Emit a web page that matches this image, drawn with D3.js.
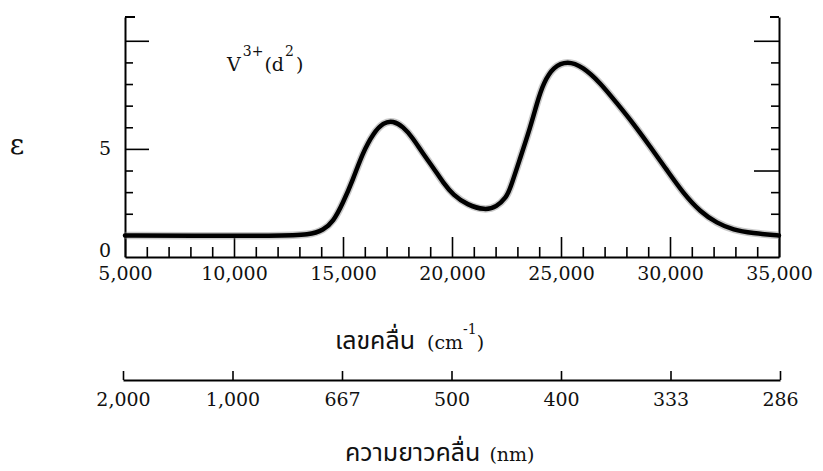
<!DOCTYPE html>
<html>
<head>
<meta charset="utf-8">
<script src="https://cdn.jsdelivr.net/npm/d3@7"></script>
<style>
  body { margin: 0; background: #fff; }
  text { fill: #111; }
  .num { font-family: "DejaVu Serif", serif; font-size: 19px; }
  .thai { font-family: "Noto Sans Thai", "Noto Serif Thai", "Loma", "Garuda", "Noto Sans", sans-serif; font-size: 25px; }
</style>
</head>
<body>
<script>
// wavenumber (cm-1) and molar absorptivity
const wavenumber = [5000, 8000, 12000, 13500, 14100, 14550, 15000, 15450, 15900, 16400,
  16850, 17300, 17750, 18200, 18650, 19150, 19600, 20050, 20700, 21500, 22050, 22500,
  22650, 23100, 23600, 23900, 24200, 24650, 25300, 26000, 26800, 27550, 28300, 29100,
  29850, 30600, 31400, 32150, 32900, 33800, 34900, 35000];
const epsilon = [1.0, 0.98, 0.98, 1.02, 1.25, 1.62, 2.5, 3.56, 4.81, 5.74,
  6.22, 6.3, 6.04, 5.51, 4.81, 4.12, 3.43, 2.87, 2.41, 2.16, 2.31, 2.78,
  3.1, 4.49, 6.02, 7.13, 8.06, 8.8, 9.08, 8.8, 8.06, 7.13, 6.2, 5.09,
  4.03, 2.96, 2.08, 1.57, 1.25, 1.1, 1.0, 1.0];

const wnTicks = [5000, 10000, 15000, 20000, 25000, 30000, 35000];
const wnLabels = ["5,000", "10,000", "15,000", "20,000", "25,000", "30,000", "35,000"];
const wlLabels = ["2,000", "1,000", "667", "500", "400", "333", "286"];
const epsTicks = [0, 5];

const W = 823, H = 471;
const svg = d3.select("body").append("svg").attr("width", W).attr("height", H);

const x = d3.scaleLinear().domain([5000, 35000]).range([125, 779]);
const y = d3.scaleLinear().domain([0, 11.1]).range([257, 17]);

// bottom (wavenumber) axis, ticks pointing up
const xAxis = d3.axisBottom(x)
  .tickValues(d3.range(6000, 35001, 1000).concat([5000]))
  .tickSizeInner(-10).tickSizeOuter(0).tickPadding(10)
  .tickFormat(d => wnTicks.includes(d) ? wnLabels[wnTicks.indexOf(d)] : "");
const gx = svg.append("g").attr("transform", "translate(0,257)").call(xAxis);
gx.selectAll(".tick line").attr("y2", d => d % 5000 === 0 ? -20 : -10);
gx.selectAll(".tick text").attr("class", "num");
gx.select(".domain").attr("stroke-width", 2);

// left axis
const yAxis = d3.axisLeft(y)
  .tickValues(d3.range(0, 11))
  .tickSizeInner(-8).tickSizeOuter(0).tickPadding(14)
  .tickFormat(d => epsTicks.includes(d) ? d : "");
const gy = svg.append("g").attr("transform", "translate(125,0)").call(yAxis);
gy.selectAll(".tick line").attr("x2", d => d === 0 ? 0 : (d % 5 === 0 ? 24 : 8));
gy.selectAll(".tick text").attr("class", "num")
  .attr("dy", d => d === 0 ? "-0.05em" : "0.32em");
gy.select(".domain").attr("stroke-width", 2);
gy.append("line").attr("x1", 0).attr("x2", 10).attr("y1", 17).attr("y2", 17)
  .attr("stroke", "#000").attr("stroke-width", 2);

// right axis
const yAxisR = d3.axisRight(y)
  .tickValues(d3.range(1, 11))
  .tickSizeInner(-8).tickSizeOuter(0)
  .tickFormat("");
const gr = svg.append("g").attr("transform", "translate(779,0)").call(yAxisR);
gr.selectAll(".tick line").attr("x2", d => (d === 4 || d === 10) ? -25 : -8);
gr.select(".domain").attr("stroke-width", 2);
gr.append("line").attr("x1", 0).attr("x2", -9).attr("y1", 17).attr("y2", 17)
  .attr("stroke", "#000").attr("stroke-width", 2);

svg.selectAll(".tick line").attr("stroke-width", 1.6);

// the spectrum
const pts = wavenumber.map((w, i) => [w, epsilon[i]]);
const line = d3.line().x(d => x(d[0])).y(d => y(d[1])).curve(d3.curveBasis);
svg.append("path").attr("d", line(pts)).attr("fill", "none")
  .attr("stroke", "#888").attr("stroke-opacity", 0.45).attr("stroke-width", 7.5);
svg.append("path").attr("d", line(pts)).attr("fill", "none")
  .attr("stroke", "#000").attr("stroke-width", 4.5).attr("stroke-linecap", "round");

// lower (wavelength) axis
const xLow = x.copy().range([123, 780]);
const lowAxis = d3.axisBottom(xLow)
  .tickValues(wnTicks)
  .tickSizeInner(-9).tickSizeOuter(0).tickPadding(13)
  .tickFormat((d, i) => wlLabels[i]);
const gl = svg.append("g").attr("transform", "translate(0,380)").call(lowAxis);
gl.selectAll(".tick text").attr("class", "num");
gl.selectAll(".tick line").attr("stroke-width", 1.6);
gl.select(".domain").attr("stroke-width", 2);

// labels
svg.append("text").attr("x", 17).attr("y", 154).attr("text-anchor", "middle")
  .style("font-family", "DejaVu Serif, serif").style("font-size", "28px").text("ε");

const ion = svg.append("text").attr("class", "num").attr("x", 227).attr("y", 71);
ion.append("tspan").text("V");
ion.append("tspan").attr("dy", -15).attr("dx", 2).style("font-size", "14px").text("3+");
ion.append("tspan").attr("dy", 15).attr("dx", 1).text("(d");
ion.append("tspan").attr("dy", -15).attr("dx", 1).style("font-size", "14px").text("2");
ion.append("tspan").attr("dy", 15).attr("dx", 2).text(")");

const t1 = svg.append("text").attr("x", 335).attr("y", 349);
t1.append("tspan").attr("class", "thai").text("เลขคลื่น");
t1.append("tspan").attr("class", "num").attr("dx", 12).text("(cm");
t1.append("tspan").attr("class", "num").attr("dy", -15).style("font-size", "14px").text("-1");
t1.append("tspan").attr("class", "num").attr("dy", 15).text(")");

const t2 = svg.append("text").attr("x", 345).attr("y", 461);
t2.append("tspan").attr("class", "thai").text("ความยาวคลื่น");
t2.append("tspan").attr("class", "num").attr("dx", 9).text("(nm)");
</script>
</body>
</html>
